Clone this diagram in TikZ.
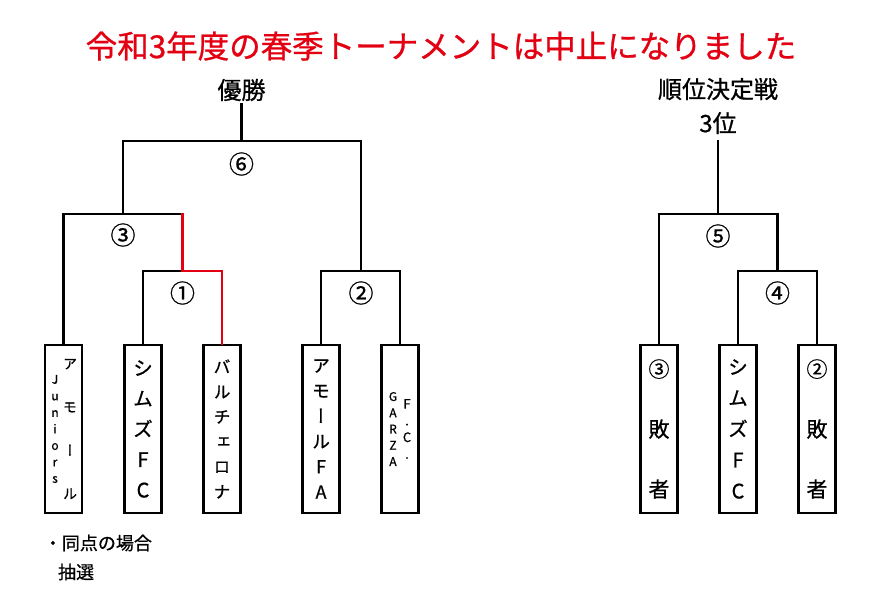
\documentclass[tikz,border=0pt]{standalone}
\usepackage{fontspec}
\setmainfont{Noto Sans CJK JP}[FakeBold=0.8]
\newfontfamily\tatefont[RawFeature=+vert, FakeBold=0.8]{Noto Sans CJK JP}
\usetikzlibrary{positioning}
\definecolor{titlered}{RGB}{226,0,18}

\begin{document}
\begin{tikzpicture}[x=1pt, y=-1pt, line width=2.8pt, line cap=rect,
    team/.style={draw, line width=2.8pt, minimum width=37, minimum height=168, inner sep=0pt, align=center},
    col/.style={inner sep=0pt, align=center},
    num/.style={font=\fontsize{25}{25}\selectfont, inner sep=0pt},
    heading/.style={font=\fontsize{24}{34}\selectfont, align=center, inner sep=2pt}]
    \useasboundingbox (0,0) rectangle (881,614);
    \node [font=\fontsize{31.5}{32}\selectfont, text=titlered] (title) at (441,46) {令和3年度の春季トーナメントは中止になりました};
    \node [heading] (win) at (241.5,90) {優勝};
    \node [heading, inner ysep=6pt] (third) at (718,106) {順位決定戦\\3位};

    \node [team] (t1) at (63.5,429) {};
    \node [col, font=\tatefont\fontsize{14}{43.3}\selectfont] (t1a) at ([xshift=6.5pt]t1.center) {ア\\モ\\ー\\ル};
    \node [col, font=\fontsize{12}{16.5}\selectfont] (t1b) at ([xshift=-8.5pt]t1.center) {J\\u\\n\\i\\o\\r\\s};
    \node [team, font=\tatefont\fontsize{20}{30.5}\selectfont] (t2) at (143,429) {シ\\ム\\ズ\\F\\C};
    \node [team, font=\tatefont\fontsize{17}{25}\selectfont] (t3) at (222,429) {バ\\ル\\チ\\ェ\\ロ\\ナ};
    \node [team, font=\tatefont\fontsize{18}{25.3}\selectfont] (t4) at (321,429) {ア\\モ\\ー\\ル\\F\\A};
    \node [team] (t5) at (400,429) {};
    \node [col, font=\fontsize{13}{16.7}\selectfont] (t5a) at ([xshift=7pt]t5.center) {F\\.\\C\\.};
    \node [col, font=\fontsize{12}{16.25}\selectfont] (t5b) at ([xshift=-7pt]t5.center) {G\\A\\R\\Z\\A};

    \node [team, font=\fontsize{21}{60}\selectfont] (r1) at (659,429) {③\\敗\\者};
    \node [team, font=\tatefont\fontsize{20}{31}\selectfont] (r2) at (738,429) {シ\\ム\\ズ\\F\\C};
    \node [team, font=\fontsize{21}{60}\selectfont] (r3) at (817,429) {②\\敗\\者};

    \coordinate (m1) at (182.5,271);
    \coordinate (m2) at (361,271);
    \coordinate (m3) at (123,214);
    \coordinate (m6) at (241.5,141);
    \coordinate (m4) at (777.5,271);
    \coordinate (m5) at (718,214);

    \draw (t2.north) |- (m1);
    \draw [titlered] (m1) -| (t3.north);
    \draw (t4.north) |- (m2) -| (t5.north);
    \draw (t1.north) |- (m3) -- (m3 -| m1);
    \draw [titlered] (m3 -| m1) -- (m1);
    \draw (m3) |- (m6) -| (m2);
    \draw (m6) -- (win);
    \draw (r2.north) |- (m4) -| (r3.north);
    \draw (r1.north) |- (m5) -| (m4);
    \draw (m5) -- (third);

    \node [num] (n1) at (182.5,293) {①};
    \node [num] (n2) at (361,293) {②};
    \node [num] (n3) at (123,235) {③};
    \node [num] (n4) at (777.5,293) {④};
    \node [num] (n5) at (718,236) {⑤};
    \node [num] (n6) at (241.5,164) {⑥};

    \node [font=\fontsize{18}{18}\selectfont, anchor=west, inner sep=0pt] (note) at (42.5,543) {・同点の場合};
    \node [font=\fontsize{18}{18}\selectfont, anchor=west, inner sep=0pt] (lot) at (56.7,572) {抽選};
\end{tikzpicture}
\end{document}
